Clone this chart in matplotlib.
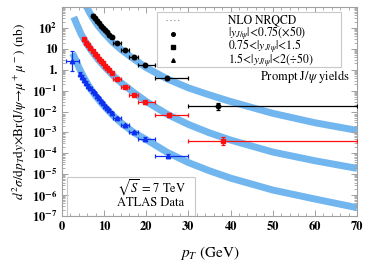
import numpy as np
import matplotlib
matplotlib.use("Agg")
import matplotlib.pyplot as plt
from matplotlib.patches import Rectangle
from matplotlib.ticker import FixedLocator, MultipleLocator, LogLocator, NullFormatter

plt.rcParams['font.family'] = ['STIXGeneral', 'DejaVu Serif']
plt.rcParams['mathtext.fontset'] = 'stix'

# ATLAS prompt J/psi data, |y|<0.75 (x50)
black_pt = [7.25, 7.75, 8.25, 8.75, 9.25, 9.75, 10.25, 10.75, 11.25, 11.75, 13.0, 15.0, 17.0, 19.7, 25.0, 37.1]
black_lo = [7.0, 7.5, 8.0, 8.5, 9.0, 9.5, 10.0, 10.5, 11.0, 11.5, 12, 14, 16, 18, 22, 30]
black_hi = [7.5, 8.0, 8.5, 9.0, 9.5, 10.0, 10.5, 11.0, 11.5, 12.0, 14, 16, 18, 22, 30, 70]
black_y = [380, 290, 220, 170, 130, 100, 80, 62, 48, 38, 18, 8.7, 3.9, 1.7, 0.38, 0.018]
black_rel = [0.2, 0.15, 0.15, 0.12, 0.12, 0.12, 0.12, 0.12, 0.12, 0.12, 0.12, 0.15, 0.15, 0.15, 0.2, 0.45]

# 0.75<|y|<1.5
red_pt = [5.25, 5.75, 6.25, 6.75, 7.25, 7.75, 8.25, 8.75, 9.25, 9.75, 10.25, 10.75, 11.25, 11.75,
          13.0, 15.0, 17.0, 19.8, 25.4, 38.1]
red_lo = [5.0, 5.5, 6.0, 6.5, 7.0, 7.5, 8.0, 8.5, 9.0, 9.5, 10.0, 10.5, 11.0, 11.5, 12, 14, 16, 18, 22, 30]
red_hi = [5.5, 6.0, 6.5, 7.0, 7.5, 8.0, 8.5, 9.0, 9.5, 10.0, 10.5, 11.0, 11.5, 12.0, 14, 16, 18, 22, 30, 70]
red_y = [28, 20, 14.5, 10.5, 7.8, 5.9, 4.4, 3.4, 2.6, 2.0, 1.55, 1.2, 0.93, 0.72,
         0.36, 0.145, 0.062, 0.027, 0.0068, 0.00039]
red_rel = [0.2, 0.2, 0.15, 0.15, 0.15, 0.12, 0.12, 0.12, 0.12, 0.12, 0.12, 0.12, 0.12, 0.12,
           0.12, 0.15, 0.15, 0.15, 0.2, 0.5]

# 1.5<|y|<2 (/50)
blue_pt = [2.4, 4.25, 4.75, 5.25, 5.75, 6.25, 6.75, 7.25, 7.75, 8.25, 8.75, 9.25, 9.75, 10.25, 10.75,
           11.25, 11.75, 13.0, 15.0, 17.0, 19.8, 25.2]
blue_lo = [1.0, 4.0, 4.5, 5.0, 5.5, 6.0, 6.5, 7.0, 7.5, 8.0, 8.5, 9.0, 9.5, 10.0, 10.5, 11.0, 11.5,
           12, 14, 16, 18, 22]
blue_hi = [4.0, 4.5, 5.0, 5.5, 6.0, 6.5, 7.0, 7.5, 8.0, 8.5, 9.0, 9.5, 10.0, 10.5, 11.0, 11.5, 12.0,
           14, 16, 18, 22, 30]
blue_y = [2.6, 0.62, 0.45, 0.32, 0.235, 0.175, 0.13, 0.097, 0.073, 0.055, 0.042, 0.032, 0.025, 0.019,
          0.0145, 0.0113, 0.0088, 0.0050, 0.0022, 0.00102, 0.0005, 7.6e-5]
blue_rel = [2.0, 0.3, 0.25, 0.2, 0.2, 0.15, 0.15, 0.15, 0.12, 0.12, 0.12, 0.12, 0.12, 0.12, 0.12,
            0.12, 0.12, 0.15, 0.15, 0.15, 0.15, 0.2]

# NLO NRQCD bands
black_band_pt = [5.8, 6.5, 7.5, 8.5, 10, 12, 14, 17, 20, 25, 30, 35, 40, 50, 60, 70]
black_band = [1050, 560, 260, 130, 56, 21, 9.2, 3.3, 1.25, 0.36, 0.135, 0.062, 0.030, 0.0082, 0.0029, 0.00125]
red_band_pt = [2.8, 3.5, 4.5, 5.5, 7, 8.5, 10, 12, 14, 17, 20, 25, 30, 35, 40, 50, 60, 70]
red_band = [330, 150, 52, 23, 8, 3.2, 1.45, 0.56, 0.24, 0.082, 0.030, 7.3e-3, 2.4e-3, 9.5e-4, 4.3e-4,
            1.15e-4, 4.4e-5, 1.9e-5]
blue_band_pt = [2.5, 3, 4, 5, 6, 7, 8, 9, 10, 12, 14, 17, 20, 25, 30, 35, 40, 50, 60, 70]
blue_band = [6, 3.8, 1.3, 0.5, 0.22, 0.105, 0.055, 0.031, 0.018, 6.8e-3, 2.9e-3, 1.0e-3, 4.5e-4, 1.1e-4,
             3.6e-5, 1.45e-5, 6.5e-6, 1.75e-6, 6.5e-7, 2.5e-7]

yticks = [1e-7, 1e-6, 1e-5, 1e-4, 1e-3, 1e-2, 1e-1, 1, 10, 100]
ylabels = [r'$\mathbf{10^{-7}}$', r'$\mathbf{10^{-6}}$', r'$\mathbf{10^{-5}}$', r'$\mathbf{10^{-4}}$',
           r'$\mathbf{10^{-3}}$', r'$\mathbf{10^{-2}}$', r'$\mathbf{10^{-1}}$', '1.', '10', r'$\mathbf{10^{2}}$']

band_color = '#72b6f0'
frame = '#a0a0a0'

fig = plt.figure(figsize=(3.74, 2.69), dpi=100)
ax = fig.add_axes([62 / 374, 1 - 216 / 269, 295 / 374, 209 / 269])

for bpt, bv in [(black_band_pt, black_band), (red_band_pt, red_band), (blue_band_pt, blue_band)]:
    ax.plot(bpt, bv, color=band_color, lw=5.0, solid_capstyle='butt', zorder=1)


def draw(pt, lo, hi, y, rel, col, mk):
    pt = np.array(pt)
    y = np.array(y)
    rel = np.array(rel)
    xerr = [pt - np.array(lo), np.array(hi) - pt]
    yerr = [y - y / (1 + rel), y * rel]
    ax.errorbar(pt, y, xerr=xerr, yerr=yerr, fmt=mk, color=col, ms=3.2, lw=0.9,
                capsize=1.6, capthick=0.9, zorder=3)


draw(black_pt, black_lo, black_hi, black_y, black_rel, 'black', 'o')
draw(red_pt, red_lo, red_hi, red_y, red_rel, '#ff1010', 's')
draw(blue_pt, blue_lo, blue_hi, blue_y, blue_rel, '#1030f0', '^')

ax.set_yscale('log')
ax.set_xlim(0, 70)
ax.set_ylim(1e-7, 1e3)
ax.yaxis.set_major_locator(FixedLocator(yticks))
ax.set_yticklabels(ylabels, fontweight='bold', fontsize=9)
ax.yaxis.set_minor_locator(LogLocator(base=10, subs=np.arange(2, 10), numticks=20))
ax.yaxis.set_minor_formatter(NullFormatter())
ax.xaxis.set_major_locator(MultipleLocator(10))
ax.xaxis.set_minor_locator(MultipleLocator(2))
for lab in ax.get_xticklabels():
    lab.set_fontweight('bold')
    lab.set_fontsize(9)

ax.tick_params(which='both', direction='in', top=True, right=True, color=frame)
ax.tick_params(which='major', length=4, width=0.7)
ax.tick_params(which='minor', length=2, width=0.6)
for s in ax.spines.values():
    s.set_color(frame)
    s.set_linewidth(0.8)

ax.set_xlabel(r'$p_T$ (GeV)', fontsize=11, labelpad=8)
ax.set_ylabel(r'$d^2\sigma/\mathrm{d}p_T\mathrm{d}y{\times}\mathrm{Br}(\mathrm{J}/\psi\!\rightarrow\!\mu^+\mu^-)$ (nb)',
              fontsize=9.5, labelpad=2)

# legend box
tr = ax.transAxes
ax.add_patch(Rectangle((0.322, 0.714), 0.624, 0.26, transform=tr, fill=False,
                       ec='#c8c8c8', lw=0.8, zorder=4))
ax.add_patch(Rectangle((0.322, 0.714), 0.624, 0.26, transform=tr, fc='white',
                       ec='none', zorder=2))
hx = (173 - 62) / 295
tx = (228 - 62) / 295
rows = [(216 - 20) / 209, (216 - 33.5) / 209, (216 - 47) / 209, (216 - 60) / 209]
ax.plot([hx - 0.025, hx + 0.025], [rows[0]] * 2, transform=tr, ls=(0, (1, 2.5)), color='#888888',
        lw=0.8, zorder=5)
for r, mk in zip(rows[1:], ['o', 's', '^']):
    ax.plot([hx], [r], mk, transform=tr, color='black', ms=2.6, zorder=5)
leg_text = ['NLO NRQCD', r'|$y_{J/\psi}$|<0.75(×50)', r'0.75<|$y_{J/\psi}$|<1.5', r'1.5<|$y_{J/\psi}$|<2(÷50)']
for r, t in zip(rows, leg_text):
    ax.text(tx, r, t, transform=tr, fontsize=8.5, va='center', ha='left', zorder=5)
ax.text((350 - 62) / 295, (216 - 76.5) / 209, r'Prompt J/$\psi$ yields', transform=tr, fontsize=9,
        va='center', ha='right', zorder=5)

# info box
ax.add_patch(Rectangle((5 / 295, 0), (195 - 67) / 295, (216 - 177) / 209, transform=tr, fill=False,
                       ec='#c8c8c8', lw=0.8, zorder=4))
ax.text((117 - 62) / 295, (216 - 188) / 209, r'$\sqrt{S}$ = 7 TeV', transform=tr, fontsize=9,
        va='center', ha='left', zorder=5)
ax.text((117 - 62) / 295, (216 - 203) / 209, 'ATLAS Data', transform=tr, fontsize=9,
        va='center', ha='left', zorder=5)

fig.savefig('out.png', dpi=100)
